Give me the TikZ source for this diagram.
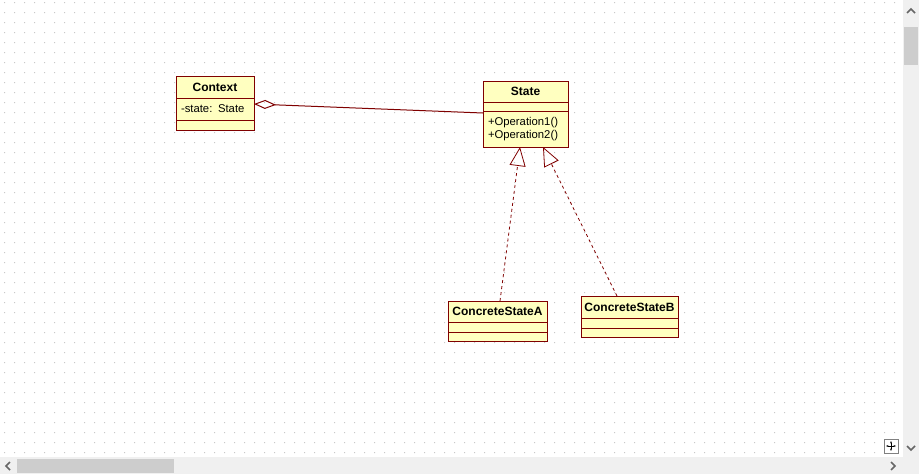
\documentclass[tikz,border=0pt]{standalone}
\usepackage{fontspec}
\setmainfont{Liberation Sans}
\usetikzlibrary{positioning, arrows.meta}
\definecolor{umlred}{RGB}{128,0,0}
\definecolor{umlfill}{RGB}{255,255,192}
\definecolor{bargray}{RGB}{240,240,240}
\definecolor{thumbgray}{RGB}{205,205,205}
\definecolor{dotgray}{RGB}{200,200,200}
\tikzstyle{classname} = [rectangle, draw=umlred, fill=umlfill, line width=1pt, outer sep=0pt, inner sep=0pt, text centered, font=\fontsize{12}{14}\selectfont\bfseries]
\tikzstyle{compart} = [rectangle, draw=umlred, fill=umlfill, line width=1pt, outer sep=0pt, inner xsep=5pt, inner ysep=0pt, align=left, font=\fontsize{11.3}{13}\selectfont]
\tikzstyle{aggr} = [umlred, line width=1pt, {Diamond[open,length=22pt,width=9pt]}-]
\tikzstyle{realize} = [umlred, line width=0.8pt, dash pattern=on 3pt off 3pt, -{Triangle[open,length=19pt,width=16pt]}]
\tikzstyle{chevron} = [draw=black!60, line width=1.5pt]

\begin{document}
\begin{tikzpicture}[x=1pt, y=-1pt]
\useasboundingbox (0,0) rectangle (919,474);
\fill[white] (0,0) rectangle (919,474);
\fill[dotgray] \foreach \x in {4,14,...,894} {\foreach \y in {2,12,...,452} {(\x,\y) rectangle ++(1,1)}};
\node (context) [classname, minimum width=78pt, minimum height=22pt] at (215,87) {Context};
\node (context_attr) [compart, text width=68pt, minimum height=22pt, below=0pt of context] {-state: State};
\node (context_ops) [compart, text width=68pt, minimum height=10pt, below=0pt of context_attr] {};
\node (state) [classname, minimum width=85pt, minimum height=21pt] at (525.5,91.5) {State};
\node (state_attr) [compart, text width=75pt, minimum height=9pt, below=0pt of state] {};
\node (state_ops) [compart, text width=75pt, minimum height=36pt, below=0pt of state_attr] {+Operation1()\\+Operation2()};
\node (csa) [classname, minimum width=99pt, minimum height=21pt] at (497.5,311.5) {ConcreteStateA};
\node (csa_attr) [compart, text width=89pt, minimum height=10pt, below=0pt of csa] {};
\node (csa_ops) [compart, text width=89pt, minimum height=9pt, below=0pt of csa_attr] {};
\node (csb) [classname, minimum width=97pt, minimum height=22pt] at (629.5,307) {ConcreteStateB};
\node (csb_attr) [compart, text width=87pt, minimum height=10pt, below=0pt of csb] {};
\node (csb_ops) [compart, text width=87pt, minimum height=9pt, below=0pt of csb_attr] {};
\draw [aggr] ([yshift=5pt]context_attr.east) -- ([yshift=16pt]state_ops.west);
\draw [realize] ([xshift=2.5pt]csa.north) -- ([xshift=-5.5pt]state_ops.south);
\draw [realize] ([xshift=-12.5pt]csb.north) -- ([xshift=17.5pt]state_ops.south);
\fill[bargray] (903,0) rectangle (919,474);
\fill[bargray] (0,457) rectangle (919,474);
\fill[thumbgray] (904,27) rectangle (918,65);
\fill[thumbgray] (17,459) rectangle (174,473);
\draw[chevron] (907,13) -- (911,9) -- (915,13);
\draw[chevron] (907,446) -- (911,450) -- (915,446);
\draw[chevron] (10,462) -- (6,466) -- (10,470);
\draw[chevron] (891,462) -- (895,466) -- (891,470);
\draw[draw=black!50, fill=white] (884,439) rectangle (898,453);
\draw[black, line width=0.8pt, {Stealth[length=2.5pt]}-{Stealth[length=2.5pt]}] (891,441) -- (891,451);
\draw[black, line width=0.8pt, {Stealth[length=2.5pt]}-{Stealth[length=2.5pt]}] (886,446) -- (896,446);
\end{tikzpicture}
\end{document}
